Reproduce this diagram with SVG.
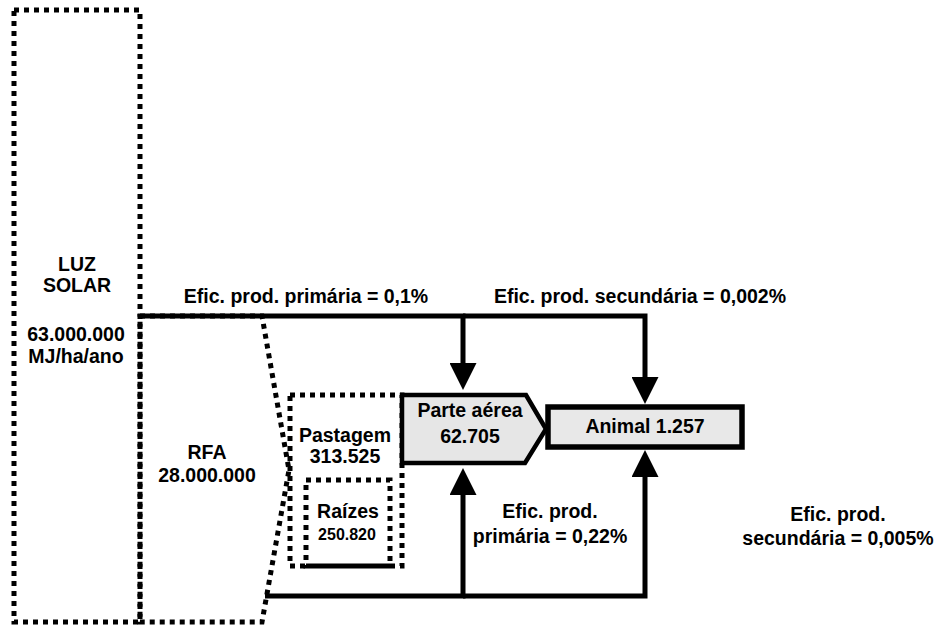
<svg xmlns="http://www.w3.org/2000/svg" width="938" height="627" viewBox="0 0 938 627">
  <style>
    .dot { fill: none; stroke: #000; stroke-width: 5; stroke-dasharray: 5 5; }
    .box { stroke: #000; stroke-linejoin: miter; }
    .wire { fill: none; stroke: #000; stroke-width: 5; stroke-linejoin: miter; stroke-linecap: butt; }
    .t { font-family: "Liberation Sans", Arial, sans-serif; font-weight: bold; font-size: 19.5px; fill: #000; text-anchor: middle; }
    .s { font-size: 16px; }
  </style>
  <defs>
    <marker id="head" viewBox="0 0 27 27" refX="0" refY="13.5" markerWidth="27" markerHeight="27" markerUnits="userSpaceOnUse" orient="auto">
      <path d="M0,0 L27,13.5 L0,27 Z" fill="#000"/>
    </marker>
  </defs>

  <rect width="938" height="627" fill="#fff"/>

  <!-- incoming sunlight -->
  <g id="luz-solar">
    <rect class="dot" x="14" y="10" width="126" height="612"/>
    <text class="t" x="77" y="271">LUZ</text>
    <text class="t" x="77" y="292">SOLAR</text>
    <text class="t" x="76" y="341">63.000.000</text>
    <text class="t" x="76" y="363">MJ/ha/ano</text>
  </g>

  <!-- photosynthetically active radiation -->
  <g id="rfa">
    <polygon class="dot" points="140,316 262,316 289,470 262,622 140,622"/>
    <text class="t" x="207" y="459">RFA</text>
    <text class="t" x="207" y="482">28.000.000</text>
  </g>

  <!-- pasture total -->
  <g id="pastagem">
    <rect class="dot" x="290" y="395" width="112" height="171"/>
    <text class="t" x="345" y="442">Pastagem</text>
    <text class="t" x="345" y="463">313.525</text>
  </g>

  <!-- roots -->
  <g id="raizes">
    <rect class="dot" x="306" y="480" width="84" height="86"/>
    <text class="t" x="348" y="518">Raízes</text>
    <text class="t s" x="347" y="540">250.820</text>
  </g>

  <!-- above-ground part -->
  <g id="parte-aerea">
    <polygon class="box" points="402,395 526,395 546,429 525,463 402,463" fill="#e6e6e6" stroke-width="4.5"/>
    <text class="t" x="470" y="417">Parte aérea</text>
    <text class="t" x="470" y="443">62.705</text>
  </g>

  <!-- animal -->
  <g id="animal">
    <rect class="box" x="548" y="407" width="194" height="40" fill="#e8e8e8" stroke-width="5.5"/>
    <text class="t" x="645" y="433">Animal 1.257</text>
  </g>

  <!-- flow lines -->
  <g id="connectors">
    <path class="wire" d="M140,316 H463 V363" marker-end="url(#head)"/>
    <path class="wire" d="M463,316 H645 V377" marker-end="url(#head)"/>
    <path class="wire" d="M265,596 H463 V495" marker-end="url(#head)" stroke-width="6"/>
    <path class="wire" d="M463,596 H645 V477" marker-end="url(#head)" stroke-width="6"/>
  </g>

  <!-- efficiency labels -->
  <g id="labels">
    <text class="t" x="306" y="303">Efic. prod. primária = 0,1%</text>
    <text class="t" x="640" y="303">Efic. prod. secundária = 0,002%</text>
    <text class="t" x="550" y="518">Efic. prod.</text>
    <text class="t" x="550" y="543">primária = 0,22%</text>
    <text class="t" x="838" y="521">Efic. prod.</text>
    <text class="t" x="838" y="545">secundária = 0,005%</text>
  </g>
</svg>
